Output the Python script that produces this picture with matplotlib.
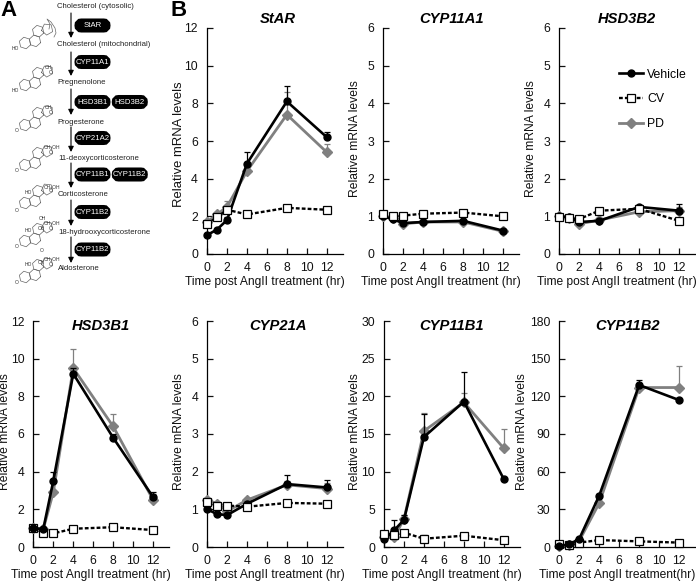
import numpy as np
import matplotlib
matplotlib.use('Agg')
import matplotlib.pyplot as plt
from matplotlib.patches import FancyBboxPatch

plt.rcParams['font.family'] = ['Liberation Sans', 'DejaVu Sans']

W, H = 696, 582

# hours after treatment
hours = [0, 1, 2, 4, 8, 12]
xticks = [0, 2, 4, 6, 8, 10, 12]

# values
star_vehicle = [1.0, 1.3, 1.8, 4.8, 8.1, 6.2]
star_cv = [1.6, 1.95, 2.35, 2.1, 2.45, 2.35]
star_pd = [1.7, 2.1, 2.5, 4.4, 7.4, 5.4]
star_vehicle_err = [0.05, 0.1, 0.15, 0.6, 0.8, 0.3]
star_cv_err = [0.1, 0.1, 0.1, 0.1, 0.1, 0.1]
star_pd_err = [0.1, 0.15, 0.3, 0.3, 1.2, 0.45]

a1_vehicle = [1.0, 0.92, 0.82, 0.85, 0.88, 0.62]
a1_cv = [1.05, 1.0, 1.02, 1.07, 1.1, 1.0]
a1_pd = [1.0, 0.95, 0.8, 0.85, 0.85, 0.6]
a1_vehicle_err = [0.05, 0.05, 0.05, 0.05, 0.05, 0.05]
a1_cv_err = [0.03, 0.03, 0.03, 0.03, 0.03, 0.03]
a1_pd_err = [0.05, 0.05, 0.05, 0.05, 0.05, 0.05]

b2_vehicle = [1.0, 0.98, 0.85, 0.88, 1.25, 1.15]
b2_cv = [0.98, 0.95, 0.93, 1.15, 1.2, 0.88]
b2_pd = [1.0, 0.95, 0.8, 0.9, 1.12, 1.15]
b2_vehicle_err = [0.05, 0.05, 0.05, 0.05, 0.05, 0.17]
b2_cv_err = [0.03, 0.03, 0.03, 0.03, 0.03, 0.03]
b2_pd_err = [0.05, 0.08, 0.05, 0.05, 0.08, 0.1]

b1_vehicle = [1.0, 0.95, 3.5, 9.2, 5.8, 2.65]
b1_cv = [1.0, 0.75, 0.72, 0.97, 1.05, 0.9]
b1_pd = [1.0, 0.95, 2.9, 9.5, 6.4, 2.5]
b1_vehicle_err = [0.05, 0.05, 0.5, 0.3, 0.2, 0.25]
b1_cv_err = [0.05, 0.05, 0.05, 0.05, 0.05, 0.05]
b1_pd_err = [0.05, 0.05, 0.5, 1.0, 0.65, 0.3]

c21_vehicle = [1.0, 0.87, 0.85, 1.15, 1.67, 1.58]
c21_cv = [1.2, 1.1, 1.1, 1.07, 1.17, 1.15]
c21_pd = [1.25, 1.15, 0.95, 1.25, 1.65, 1.55]
c21_vehicle_err = [0.03, 0.03, 0.03, 0.05, 0.25, 0.2]
c21_cv_err = [0.03, 0.03, 0.03, 0.03, 0.03, 0.03]
c21_pd_err = [0.05, 0.05, 0.05, 0.05, 0.1, 0.15]

b11_vehicle = [1.0, 2.2, 3.6, 14.6, 19.3, 9.0]
b11_cv = [1.7, 1.6, 1.9, 1.1, 1.5, 0.9]
b11_pd = [1.3, 1.3, 3.7, 15.4, 19.2, 13.1]
b11_vehicle_err = [0.2, 1.4, 0.6, 3.0, 3.9, 0.2]
b11_cv_err = [0.2, 0.3, 0.2, 0.5, 0.2, 0.3]
b11_pd_err = [0.2, 0.3, 0.5, 2.4, 1.2, 2.5]

b22_vehicle = [1.0, 2.0, 6.5, 41, 129, 117]
b22_cv = [2.0, 1.5, 3.5, 5.5, 4.5, 3.5]
b22_pd = [1.0, 1.5, 5.0, 35, 127, 127]
b22_vehicle_err = [0.5, 0.5, 1, 1, 4, 1]
b22_cv_err = [0.5, 0.5, 0.5, 0.5, 0.5, 0.5]
b22_pd_err = [0.5, 0.5, 1, 1, 2, 17]

# pathway text for panel A
compounds = ['Cholesterol (cytosolic)', 'Cholesterol (mitochondrial)', 'Pregnenolone',
             'Progesterone', '11-deoxycorticosterone', 'Corticosterone',
             '18-hydrooxycorticosterone', 'Aldosterone']
enzymes = [['StAR'], ['CYP11A1'], ['HSD3B1', 'HSD3B2'], ['CYP21A2'],
           ['CYP11B1', 'CYP11B2'], ['CYP11B2'], ['CYP11B2']]


def make_axes(left, top, bottom, right):
    # axes placed in picture pixels
    return fig.add_axes([left / W, 1 - bottom / H, (right - left) / W, (bottom - top) / H])


def draw_panel(left, top, bottom, title, title_y, ymax, ystep, vehicle, cv, pd, v_err, c_err, p_err,
               xlabel='Time post AngII treatment (hr)', cv_over=True, label_size=8.7, label_y=139, title_dx=0,
               label_dx=-28.5):
    ax = make_axes(left, top, bottom, left + 136)
    height = bottom - top
    ax.set_xlim(0, 13.62)
    ax.set_ylim(0, ymax)
    zero = [0] * len(hours)
    ax.errorbar(hours, pd, yerr=[zero, p_err], color='#808080', lw=2, marker='D', ms=5,
                mec='#808080', elinewidth=0.9, capsize=2.2, capthick=0.9, clip_on=False, zorder=3,
                label='PD')
    ax.errorbar(hours, vehicle, yerr=[zero, v_err], color='black', lw=1.9, marker='o', ms=5,
                elinewidth=0.9, capsize=2.2, capthick=0.9, clip_on=False, zorder=4, label='Vehicle')
    ax.errorbar(hours, cv, yerr=[zero, c_err], color='black', lw=1.7, ls=(0, (1.6, 0.9)), marker='s',
                ms=5.2, mfc='white', mec='black', mew=0.9, elinewidth=0.9, capsize=2.2, capthick=0.9,
                clip_on=False, zorder=5 if cv_over else 3.5, label='CV')
    ax.set_xticks(xticks)
    ax.set_yticks(np.arange(0, ymax + ystep / 2, ystep))
    ax.tick_params(direction='in', length=4, width=0.9, labelsize=8.8, colors='#111111')
    ax.tick_params(axis='y', pad=6.5)
    ax.tick_params(axis='x', pad=5.5)
    ax.spines['top'].set_visible(False)
    ax.spines['right'].set_visible(False)
    ax.spines['left'].set_linewidth(0.9)
    ax.spines['bottom'].set_linewidth(0.9)
    ax.set_xlabel(xlabel, fontsize=8.65, va='center', color='#111111')
    ax.xaxis.set_label_coords(57.5 / 136, -28 / height)
    ax.set_ylabel('Relative mRNA levels', fontsize=label_size, va='center', color='#111111')
    ax.yaxis.set_label_coords(label_dx / 136, (bottom - label_y) / height)
    ax.text(0.5 + title_dx / 136, (bottom - title_y) / height, title, transform=ax.transAxes, ha='center',
            va='center', fontsize=10.6, fontweight='bold', fontstyle='italic')
    return ax


def draw_steroid(ov, cx, cy, side_chain=False):
    # rough line drawing of the four ring skeleton, cx/cy is the middle of ring A
    r = 5.9
    dx = np.sqrt(3) * r
    centres = [(0, 0), (dx, 0), (1.5 * dx, -1.5 * r)]
    t = np.deg2rad(-12)
    rot = np.array([[np.cos(t), -np.sin(t)], [np.sin(t), np.cos(t)]])
    for c in centres:
        a = np.deg2rad(np.arange(30, 391, 60))
        pts = np.c_[r * np.cos(a) + c[0], r * np.sin(a) + c[1]] @ rot.T
        ov.plot(pts[:, 0] + cx, pts[:, 1] + cy, color='#666666', lw=0.5)
    a = np.deg2rad(np.arange(180, 541, 72))
    pts = np.c_[r * np.cos(a) + 2.5 * dx - 0.9, r * np.sin(a) - 1.5 * r] @ rot.T
    ov.plot(pts[:, 0] + cx, pts[:, 1] + cy, color='#666666', lw=0.5)
    if side_chain:
        xs = [cx + 24, cx + 25, cx + 22, cx + 26, cx + 30, cx + 31, cx + 29]
        ys = [cy - 14, cy - 19, cy - 24, cy - 21, cy - 15, cy - 10, cy - 6]
        ov.plot(xs, ys, color='#666666', lw=0.5)


def draw_pathway(ov):
    label_y = [7, 45, 82, 122, 158, 195, 232, 268]
    label_x = [57, 57, 57.5, 57.5, 58, 58, 58.5, 58]
    for name, x, y in zip(compounds, label_x, label_y):
        ov.text(x, y, name, fontsize=5.55, va='center', ha='left', color='#222222')
    # arrows between compounds
    arrow_y = [(13, 38), (52, 76), (89, 115), (127, 152), (163, 188), (200, 226), (237, 263)]
    for y0, y1 in arrow_y:
        ov.annotate('', xy=(71, y1), xytext=(71, y0),
                    arrowprops=dict(arrowstyle='-|>,head_width=0.16,head_length=0.32', lw=0.8,
                                    color='black', shrinkA=0, shrinkB=0))
    # enzyme pills
    pill_y = [25.5, 62, 102, 138, 174.5, 212, 249.5]
    for names, y in zip(enzymes, pill_y):
        for i, name in enumerate(names):
            x0 = 75 + i * 37.3
            ov.add_patch(FancyBboxPatch((x0 + 4, y - 2.5), 27, 5, boxstyle='round,pad=0,rounding_size=2.5',
                                        mutation_aspect=1, fc='black', ec='black', lw=6.5))
            ov.text(x0 + 17.5, y, name, color='white', fontsize=5.6, ha='center', va='center')
    # molecules
    mol_y = [43, 85, 125, 165, 203, 241, 277]
    for i, y in enumerate(mol_y):
        draw_steroid(ov, 25, y, side_chain=i == 0)
    small = [(15, 48, 'HO'), (15, 91, 'HO'), (17, 131, 'O'), (17, 170, 'O'), (17, 210, 'O'),
             (17, 247, 'O'), (17, 282, 'O'), (49, 68, 'CH\u2083'), (51, 73, 'O'), (49, 108, 'CH\u2083'),
             (51, 113, 'O'), (52, 148, 'CH\u2082OH'), (51, 152, 'O'), (52, 187, 'CH\u2082OH'), (51, 191, 'O'),
             (28, 193, 'HO'), (28, 231, 'HO'), (42, 219, 'OH'), (52, 224, 'CH\u2082OH'), (41, 228, 'CH'),
             (51, 229, 'O'), (28, 265, 'HO'), (42, 251, 'O'), (52, 260, 'CH\u2082OH'), (41, 263, 'CH'), (51, 265, 'O')]
    for x, y, s in small:
        ov.text(x, y, s, fontsize=3.6, ha='center', va='center', color='#333333')


fig = plt.figure(figsize=(W / 100, H / 100), dpi=100)

draw_panel(207, 28, 254, 'StAR', 19, 12, 2, star_vehicle, star_cv, star_pd, star_vehicle_err,
           star_cv_err, star_pd_err, label_size=9.4, label_y=144, title_dx=3)
draw_panel(383.3, 28, 254, 'CYP11A1', 19, 6, 1, a1_vehicle, a1_cv, a1_pd, a1_vehicle_err, a1_cv_err, a1_pd_err)
last = draw_panel(559.3, 28, 254, 'HSD3B2', 19, 6, 1, b2_vehicle, b2_cv, b2_pd, b2_vehicle_err, b2_cv_err, b2_pd_err)
draw_panel(33.3, 321, 547, 'HSD3B1', 326, 12, 2, b1_vehicle, b1_cv, b1_pd, b1_vehicle_err, b1_cv_err, b1_pd_err,
           cv_over=False, label_y=432)
draw_panel(207.3, 321, 547, 'CYP21A', 326, 6, 1, c21_vehicle, c21_cv, c21_pd, c21_vehicle_err, c21_cv_err,
           c21_pd_err, label_y=432, title_dx=3)
draw_panel(384, 321, 547, 'CYP11B1', 326, 30, 5, b11_vehicle, b11_cv, b11_pd, b11_vehicle_err, b11_cv_err,
           b11_pd_err, label_y=432)
draw_panel(559.3, 321, 547, 'CYP11B2', 326, 180, 30, b22_vehicle, b22_cv, b22_pd, b22_vehicle_err, b22_cv_err,
           b22_pd_err, xlabel='Time post AngII treatment(hr)', cv_over=False, label_y=432, label_dx=-37)

# legend sits in the HSD3B2 panel, line handles only
handles, labels = last.get_legend_handles_labels()
order = [labels.index(n) for n in ['Vehicle', 'CV', 'PD']]
last.legend([handles[i][0] for i in order], [labels[i] for i in order], loc='center left',
            bbox_to_anchor=(613 / W, 1 - 99.5 / H), bbox_transform=fig.transFigure, frameon=False, fontsize=8.8,
            labelspacing=1.05, handlelength=1.95, handletextpad=0.35, borderpad=0)

# overlay in pixel coordinates for panel A and the letters
ov = fig.add_axes([0, 0, 1, 1], zorder=10)
ov.set_xlim(0, W)
ov.set_ylim(H, 0)
ov.axis('off')
ov.patch.set_alpha(0)
draw_pathway(ov)
ov.text(0.5, 10, 'A', fontsize=16, fontweight='bold', va='center', ha='left')
ov.text(171, 10, 'B', fontsize=16, fontweight='bold', va='center', ha='left')

fig.savefig('out.png', dpi=100)
